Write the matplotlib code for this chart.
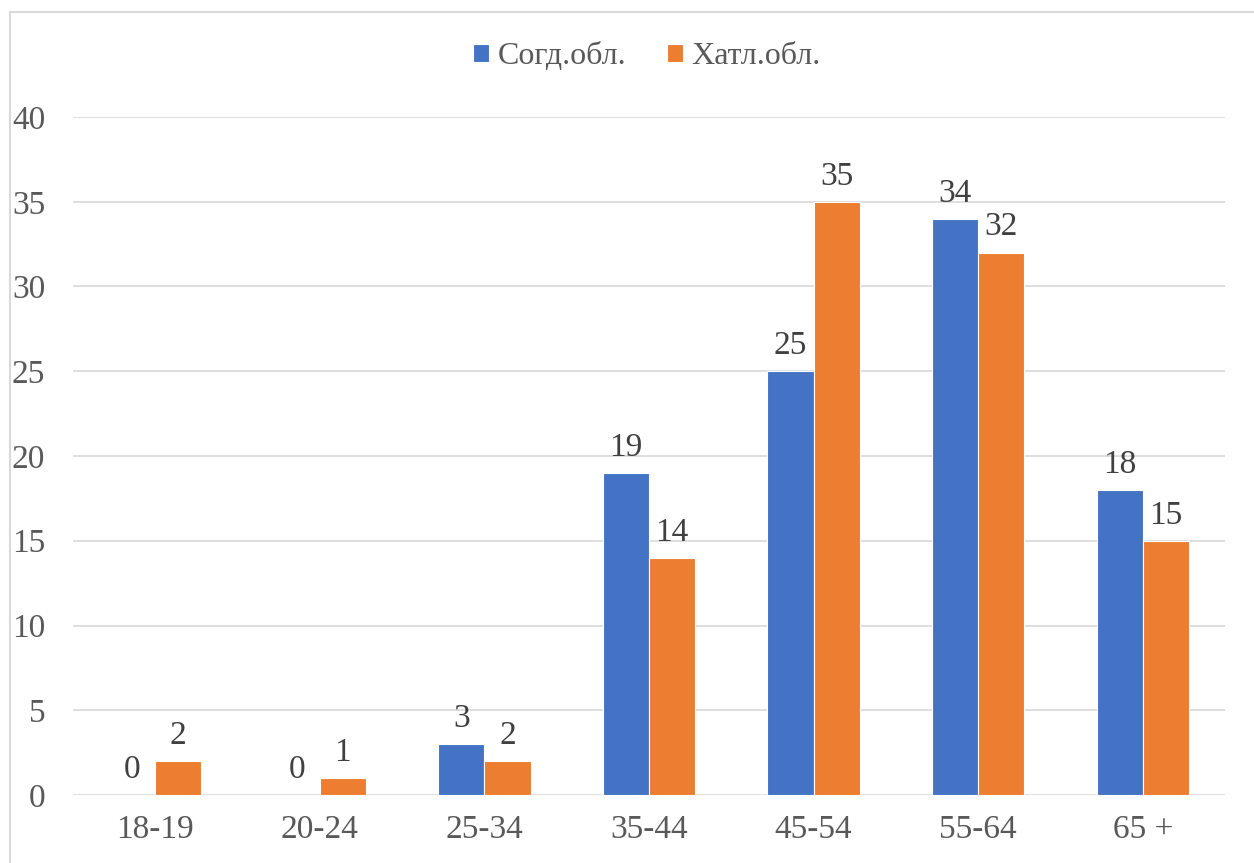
import matplotlib
matplotlib.use("Agg")
import matplotlib.pyplot as plt
from matplotlib.patches import Rectangle
import numpy as np

categories = ["18-19", "20-24", "25-34", "35-44", "45-54", "55-64", "65 +"]
sogd = [0, 0, 3, 19, 25, 34, 18]
khatl = [2, 1, 2, 14, 35, 32, 15]
series_names = ["Согд.обл.", "Хатл.обл."]
colors = ["#4472C4", "#ED7D31"]

plt.rcParams['font.family'] = ['Liberation Serif', 'DejaVu Serif']

W, H = 1254, 863
fig = plt.figure(figsize=(W/100, H/100), dpi=100)
ax = fig.add_axes([73/W, 1-795/H, (1225-73)/W, (795-117)/H])

# chart border
fig.patches.append(Rectangle((10/W, -0.5), 2, 1.5 - 12/H, transform=fig.transFigure,
                             fill=False, edgecolor="#d9d9d9", linewidth=1.5))

x = np.arange(len(categories))
bw = 0.28
b1 = ax.bar(x - bw/2, sogd, bw, color=colors[0], edgecolor="white", linewidth=0.8, label=series_names[0], zorder=3)
b2 = ax.bar(x + bw/2, khatl, bw, color=colors[1], edgecolor="white", linewidth=0.8, label=series_names[1], zorder=3)

for bars, vals in ((b1, sogd), (b2, khatl)):
    for r, v in zip(bars, vals):
        ax.text(r.get_x() + r.get_width()/2, v + 0.6, str(v), ha="center", va="bottom",
                fontsize=24, color="#404040")

ax.set_xlim(-0.5, len(categories) - 0.5)
ax.set_ylim(0, 40)
ax.set_yticks(range(0, 41, 5))
ax.set_xticks(x)
ax.set_xticklabels(categories)
ax.tick_params(axis="both", length=0, labelsize=24, labelcolor="#595959")
ax.tick_params(axis="y", pad=20)
ax.tick_params(axis="x", pad=14)
ax.grid(axis="y", color="#d9d9d9", linewidth=1.2, zorder=0)
for s in ax.spines.values():
    s.set_visible(False)

leg = fig.legend(handles=[b1, b2], labels=series_names, loc="center", bbox_to_anchor=(647/W, 1-57/H),
                 ncol=2, frameon=False, fontsize=23, handlelength=0.5, handleheight=0.5,
                 handletextpad=0.25, columnspacing=1.3)
for t in leg.get_texts():
    t.set_color("#595959")

fig.savefig("out.png", dpi=100)
